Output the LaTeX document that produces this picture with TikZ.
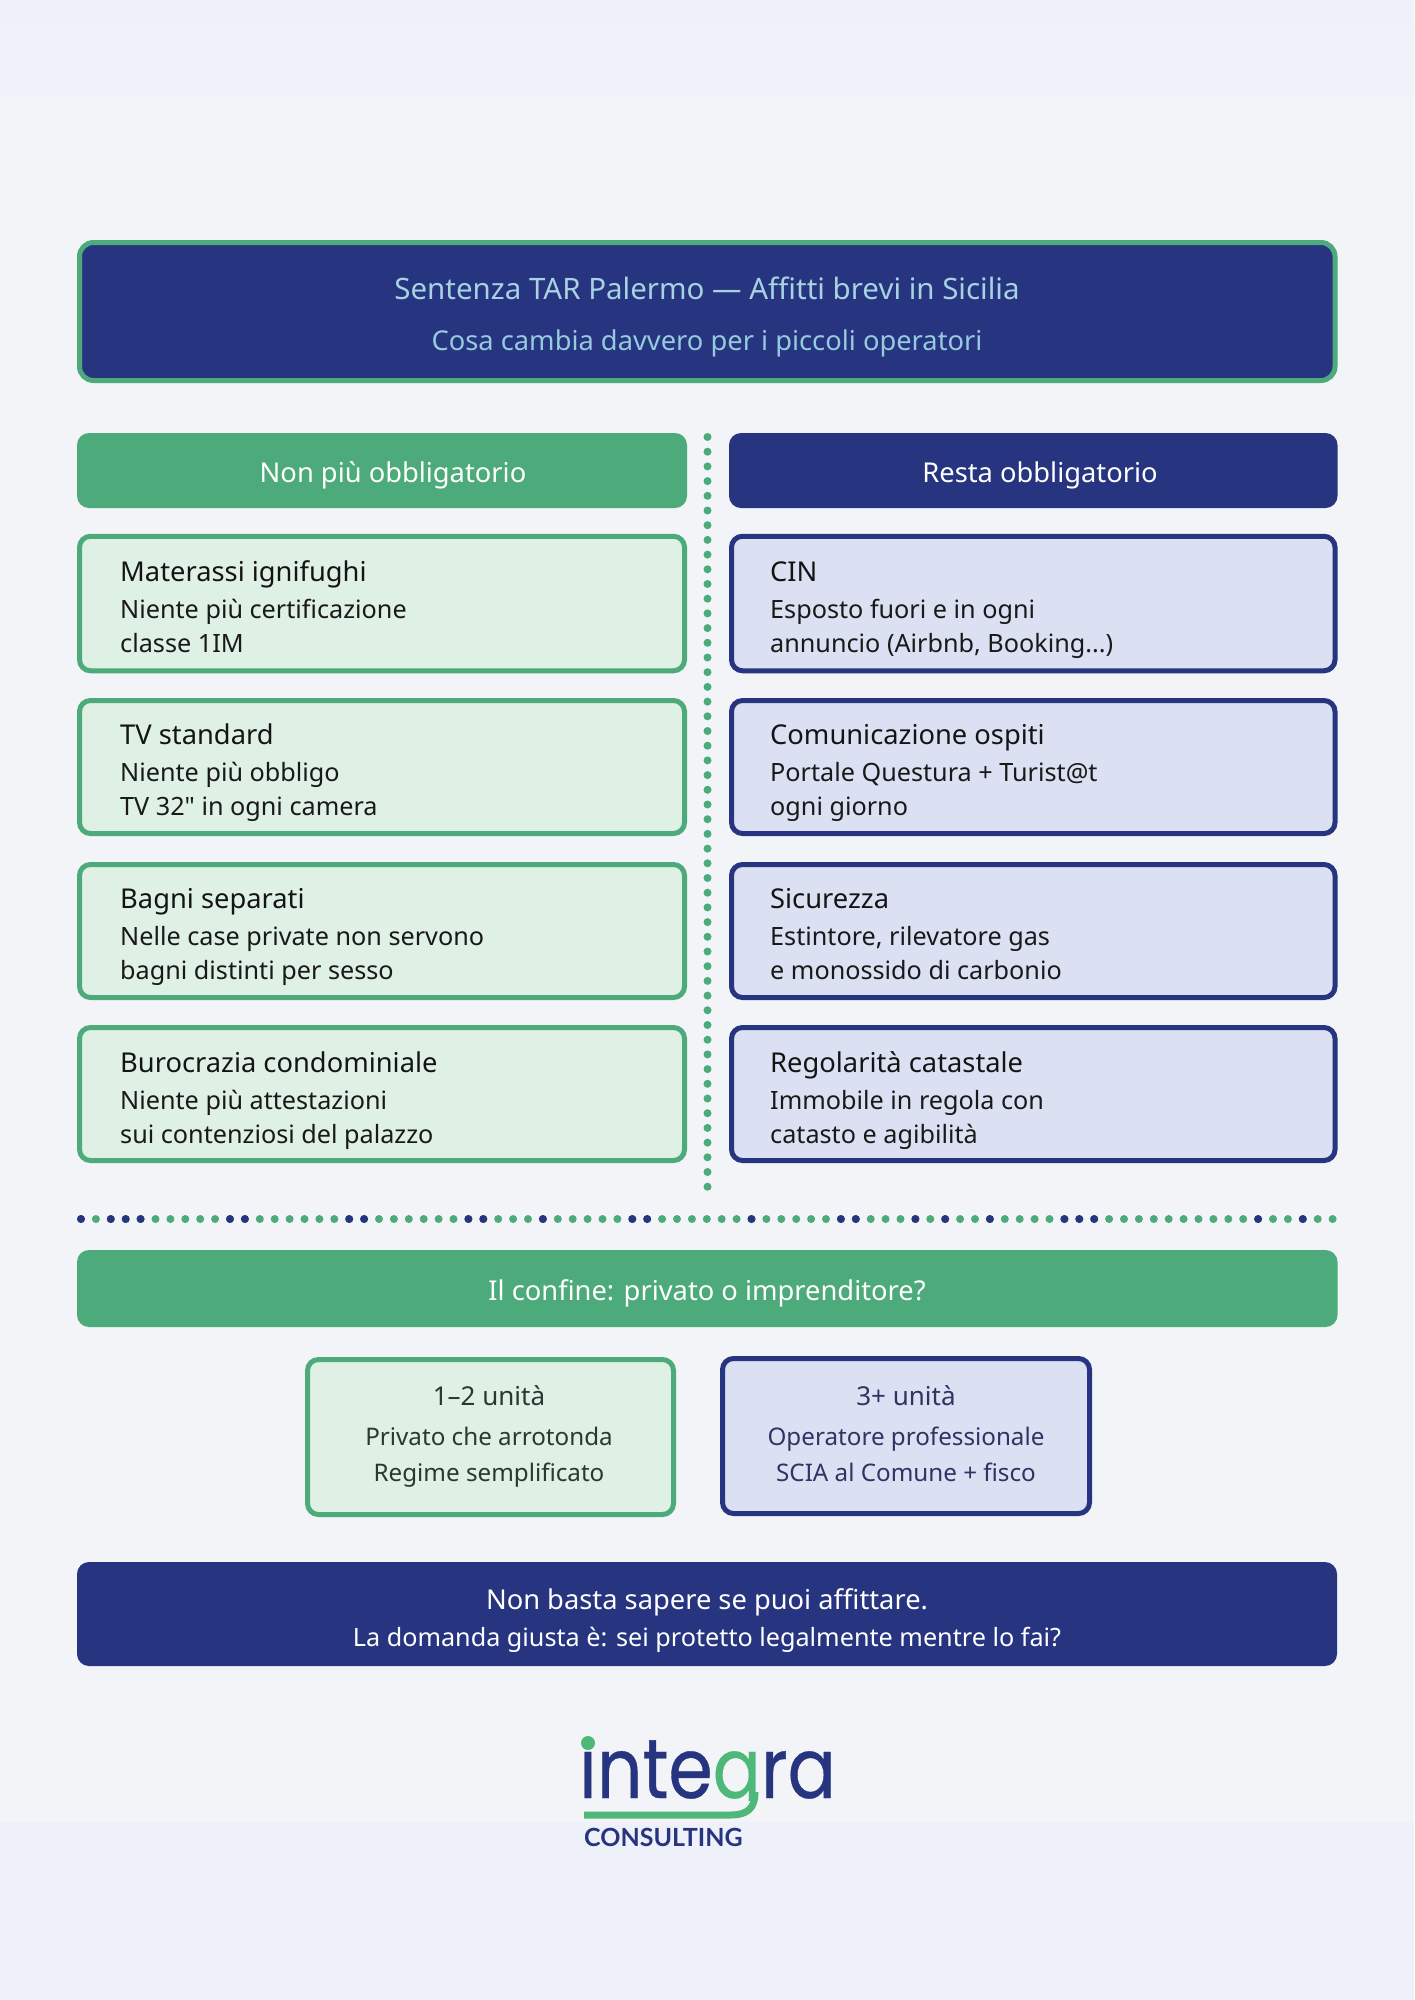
\documentclass[tikz,border=0pt]{standalone}
\usepackage{fontspec}
\setmainfont{Noto Sans}
\newfontfamily\plainquote{Noto Sans}
\newfontfamily\logofont[FakeStretch=0.85,FakeBold=0.4]{Poppins}
\newfontfamily\brandfont{Lato}
\definecolor{pagetint}{HTML}{EFF1FA}
\definecolor{pagelight}{HTML}{F3F4F8}
\definecolor{navy}{HTML}{27347F}
\definecolor{leaf}{HTML}{4DAA7A}
\definecolor{leafpale}{HTML}{DFF0E5}
\definecolor{navypale}{HTML}{DBE1F3}
\definecolor{titlesky}{HTML}{A6D2E2}
\definecolor{subsky}{HTML}{95CBDC}
\definecolor{logoleaf}{HTML}{4DB878}
\definecolor{inkgreen}{HTML}{2A3832}
\definecolor{inkblue}{HTML}{2C3563}
\tikzset{
  bar/.style={rounded corners=12pt, inner sep=0pt, text=white},
  barleaf/.style={bar, fill=leaf},
  barnavy/.style={bar, fill=navy},
  cardleaf/.style={draw=leaf, fill=leafpale, line width=5pt, rounded corners=11pt, inner sep=0pt},
  cardnavy/.style={draw=navy, fill=navypale, line width=5pt, rounded corners=11pt, inner sep=0pt},
  headtxt/.style={anchor=base, inner sep=0pt, text=white, font=\fontsize{27.3}{30}\selectfont},
  cardhead/.style={anchor=base west, inner sep=0pt, text=black!92, font=\fontsize{27.3}{32}\selectfont},
  cardline/.style={anchor=base west, inner sep=0pt, text=black!90, font=\fontsize{25.2}{30}\selectfont},
  unithead/.style={anchor=base, inner sep=0pt, font=\fontsize{26}{30}\selectfont},
  unitline/.style={anchor=base, inner sep=0pt, font=\fontsize{24.2}{30}\selectfont}
}
\begin{document}
\begin{tikzpicture}[x=1pt, y=-1pt]
    \useasboundingbox (0,0) rectangle (1414,2000);
    \fill [pagetint] (0,0) rectangle (1414,2000);
    \shade [top color=pagetint, bottom color=pagelight] (0,0) rectangle (1414,190);
    \fill [pagelight] (0,190) rectangle (1414,1822);

    \node [draw=leaf, fill=navy, line width=5pt, rounded corners=14pt, minimum width=1255.5pt, minimum height=138pt] (banner) at (707.25,311.5) {};
    \node [anchor=base, inner sep=0pt, text=titlesky, font=\fontsize{29.5}{34}\selectfont] (bannertitle) at (707,299) {Sentenza TAR Palermo — Affitti brevi in Sicilia};
    \node [anchor=base, inner sep=0pt, text=subsky, font=\fontsize{27.3}{32}\selectfont] (bannersub) at (707,350) {Cosa cambia davvero per i piccoli operatori};

    \node [barleaf, minimum width=610pt, minimum height=75pt] (nonpiu) at (382,470.5) {};
    \node [headtxt] (nonpiutxt) at (393,482) {Non più obbligatorio};
    \node [barnavy, minimum width=608.5pt, minimum height=75pt] (resta) at (1033.25,470.5) {};
    \node [headtxt] (restatxt) at (1040,482) {Resta obbligatorio};

    \node [cardleaf, minimum width=605pt, minimum height=134.5pt] (materassi) at (382,603.5) {};
    \node [cardhead] (materassihead) at (120,581) {Materassi ignifughi};
    \node [cardline] (materassia) at (120,618) {Niente più certificazione};
    \node [cardline] (materassib) at (120,652) {classe 1IM};

    \node [cardleaf, minimum width=605pt, minimum height=133pt] (tv) at (382,767) {};
    \node [cardhead] (tvhead) at (120,744.5) {TV standard};
    \node [cardline] (tva) at (120,781.5) {Niente più obbligo};
    \node [cardline] (tvb) at (120,815.5) {TV 32{\plainquote"} in ogni camera};

    \node [cardleaf, minimum width=605pt, minimum height=133pt] (bagni) at (382,931) {};
    \node [cardhead] (bagnihead) at (120,908) {Bagni separati};
    \node [cardline] (bagnia) at (120,945) {Nelle case private non servono};
    \node [cardline] (bagnib) at (120,979) {bagni distinti per sesso};

    \node [cardleaf, minimum width=605pt, minimum height=133pt] (buro) at (382,1094) {};
    \node [cardhead] (burohead) at (120,1072) {Burocrazia condominiale};
    \node [cardline] (buroa) at (120,1109) {Niente più attestazioni};
    \node [cardline] (burob) at (120,1143) {sui contenziosi del palazzo};

    \node [cardnavy, minimum width=603.5pt, minimum height=134.5pt] (cin) at (1033.25,603.5) {};
    \node [cardhead] (cinhead) at (770,581) {CIN};
    \node [cardline] (cina) at (770,618) {Esposto fuori e in ogni};
    \node [cardline] (cinb) at (770,652) {annuncio (Airbnb, Booking...)};

    \node [cardnavy, minimum width=603.5pt, minimum height=133pt] (ospiti) at (1033.25,767) {};
    \node [cardhead] (ospitihead) at (770,744.5) {Comunicazione ospiti};
    \node [cardline] (ospitia) at (770,781.5) {Portale Questura + Turist@t};
    \node [cardline] (ospitib) at (770,815.5) {ogni giorno};

    \node [cardnavy, minimum width=603.5pt, minimum height=133pt] (sicurezza) at (1033.25,931) {};
    \node [cardhead] (sicurezzahead) at (770,908) {Sicurezza};
    \node [cardline] (sicurezzaa) at (770,945) {Estintore, rilevatore gas};
    \node [cardline] (sicurezzab) at (770,979) {e monossido di carbonio};

    \node [cardnavy, minimum width=603.5pt, minimum height=133pt] (catasto) at (1033.25,1094) {};
    \node [cardhead] (catastohead) at (770,1072) {Regolarità catastale};
    \node [cardline] (catastoa) at (770,1109) {Immobile in regola con};
    \node [cardline] (catastob) at (770,1143) {catasto e agibilità};

    \foreach \i in {0,...,51}
        \fill [leaf] (707.5,{437+14.7*\i}) circle (4pt);
    \foreach \i in {0,...,84}
        \fill [leaf] ({81+14.9*\i},1219) circle (4pt);
    \foreach \i in {0,2,3,4,10,11,18,19,26,27,31,37,38,45,51,52,56,58,61,66,67,68,79,82}
        \fill [navy] ({81+14.9*\i},1219) circle (4pt);

    \node [barleaf, minimum width=1260.5pt, minimum height=77pt] (confine) at (707.25,1288.5) {};
    \node [headtxt] (confinetxt) at (707,1300) {Il confine: privato o imprenditore?};

    \node [cardleaf, minimum width=366pt, minimum height=155pt] (piccoli) at (490.5,1437) {};
    \node [unithead, text=inkgreen] (piccolihead) at (489,1405) {1–2 unità};
    \node [unitline, text=inkgreen] (piccolia) at (489,1445) {Privato che arrotonda};
    \node [unitline, text=inkgreen] (piccolib) at (489,1481) {Regime semplificato};

    \node [cardnavy, minimum width=367pt, minimum height=155pt] (grandi) at (906,1436) {};
    \node [unithead, text=inkblue] (grandihead) at (906,1405) {3+ unità};
    \node [unitline, text=inkblue] (grandia) at (906,1445) {Operatore professionale};
    \node [unitline, text=inkblue] (grandib) at (906,1481) {SCIA al Comune + fisco};

    \node [barnavy, minimum width=1260pt, minimum height=104pt] (domanda) at (707,1614) {};
    \node [headtxt] (domandaa) at (707,1609) {Non basta sapere se puoi affittare.};
    \node [headtxt, font=\fontsize{25.2}{30}\selectfont] (domandab) at (707,1646) {La domanda giusta è: sei protetto legalmente mentre lo fai?};

    \node [anchor=base west, inner sep=0pt, font=\logofont\fontsize{84}{90}\selectfont] (logoword) at (579,1798) {\textcolor{navy}{ınte}\textcolor{logoleaf}{g}\textcolor{navy}{ra}};
    \fill [pagelight] (700,1801) rectangle (790,1822);
    \fill [logoleaf] (588,1743) circle (7pt);
    \draw [logoleaf, line width=7pt] (584,1815) -- (730,1815) .. controls (748,1815) and (755,1808) .. (755,1792);
    \node [anchor=base west, inner sep=0pt, text=navy, font=\brandfont\bfseries\fontsize{25}{28}\selectfont] (logosub) at (584,1846) {CONSULTING};
\end{tikzpicture}
\end{document}
